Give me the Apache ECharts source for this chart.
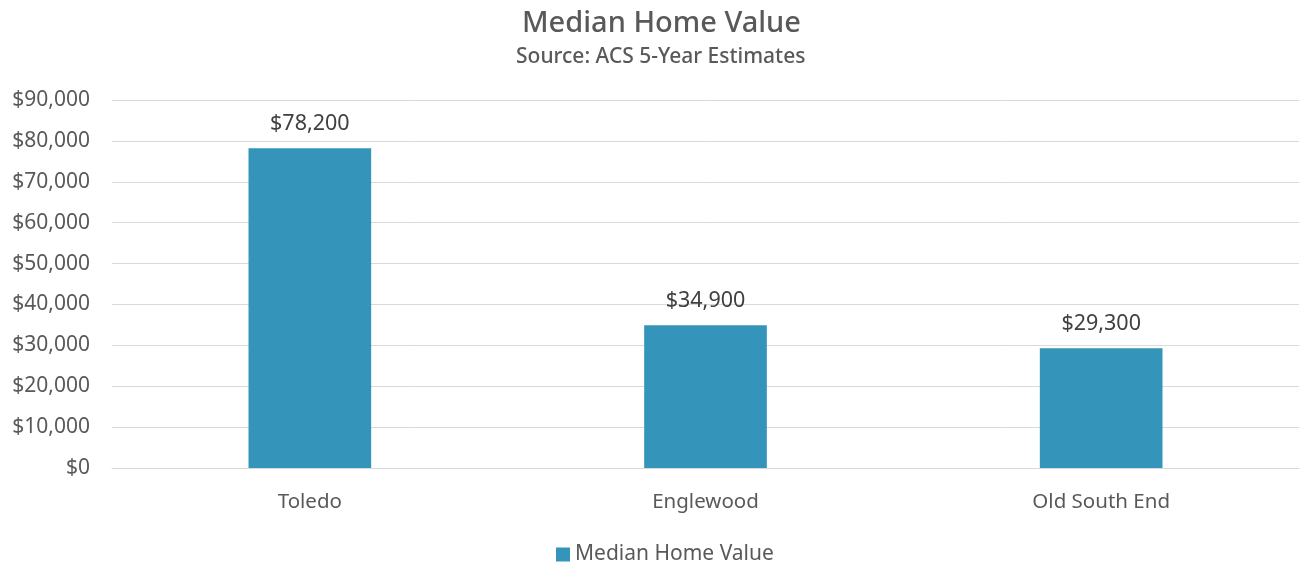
<!DOCTYPE html>
<html><head><meta charset="utf-8">
<script src="https://cdn.jsdelivr.net/npm/echarts@6/dist/echarts.min.js"></script>
<style>html,body{margin:0;padding:0;background:#fff}#c{width:1302px;height:565px}</style>
</head><body><div id="c"></div>
<script>
const categories = ["Toledo", "Englewood", "Old South End"];
const values = [78200, 34900, 29300];
const seriesName = "Median Home Value";
const titleText = "Median Home Value";
const subtitleText = "Source: ACS 5-Year Estimates";

const fmt = v => "$" + v.toLocaleString("en-US");
const chart = echarts.init(document.getElementById("c"));
chart.setOption({
  animation: false,
  title: [
    {text: titleText, left: 517, top: 4, textStyle: {fontFamily: "Noto Sans", fontSize: 29, fontWeight: 500, color: "#595959"}},
    {text: subtitleText, left: 511, top: 42, textStyle: {fontFamily: "Noto Sans", fontSize: 21, fontWeight: 500, color: "#595959"}}
  ],
  legend: {bottom: -5, left: 551, itemWidth: 14, itemHeight: 14, icon: "rect", itemGap: 6,
    textStyle: {fontFamily: "Noto Sans", fontSize: 21, color: "#595959"}, data: [seriesName]},
  grid: {left: 112, right: 3, top: 100, bottom: 97},
  xAxis: {type: "category", data: categories,
    axisLine: {lineStyle: {color: "#d9d9d9"}}, axisTick: {show: false},
    axisLabel: {fontFamily: "Noto Sans", fontSize: 20.5, color: "#595959", margin: 24}},
  yAxis: {type: "value", min: 0, max: 90000, interval: 10000,
    axisLabel: {formatter: fmt, fontFamily: "Noto Sans", fontSize: 21, color: "#595959", margin: 22},
    splitLine: {lineStyle: {color: "#d9d9d9"}}},
  series: [{name: seriesName, type: "bar", data: values, barWidth: "31%",
    itemStyle: {color: "#3494ba"},
    label: {show: true, position: "top", distance: 13, formatter: p => fmt(p.value),
      fontFamily: "Noto Sans", fontSize: 21.5, color: "#404040"}}]
});
</script></body></html>
